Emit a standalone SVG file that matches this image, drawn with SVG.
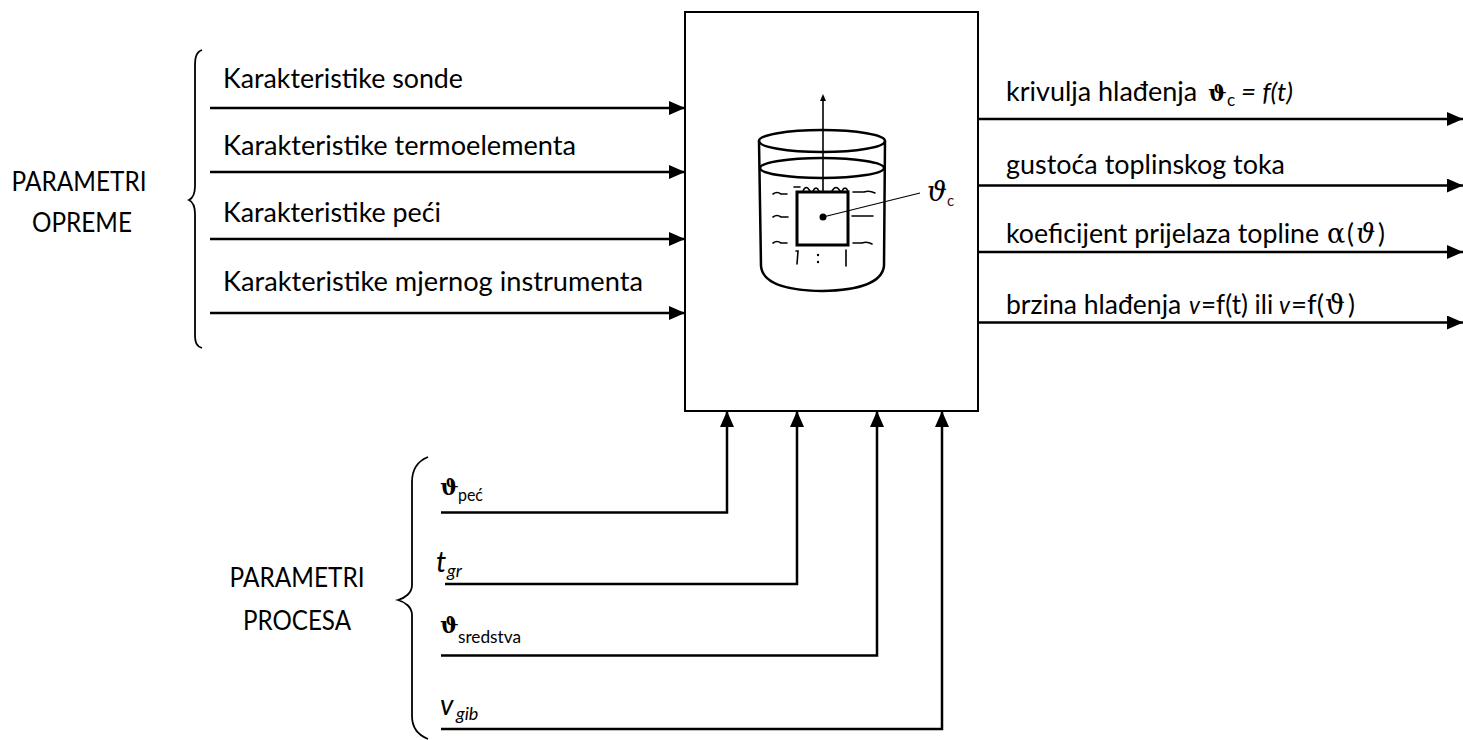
<svg xmlns="http://www.w3.org/2000/svg" width="1463" height="740" viewBox="0 0 1463 740">
<defs>
<style>
.t{font-family:Lato,"Open Sans","Liberation Sans",sans-serif;font-size:26px;fill:#000}
.sub{font-size:18px}
.it{font-style:italic}
.thb{font-family:"DejaVu Serif",serif;font-weight:bold;font-size:22px}
.ths{font-family:"DejaVu Serif","Liberation Serif",serif}
.ln{fill:none;stroke:#000;stroke-width:2.5}
.br{fill:none;stroke:#000;stroke-width:1.8}
.ill{fill:none;stroke:#000;stroke-width:2.5;stroke-linecap:round}
.thin{fill:none;stroke:#000;stroke-width:1.6;stroke-linecap:round}
</style>
<marker id="ah" markerUnits="userSpaceOnUse" markerWidth="16" markerHeight="14" refX="16" refY="7" orient="auto"><path d="M0,0 L16,7 L0,14 z" fill="#000"/></marker>
</defs>
<rect width="1463" height="740" fill="#fff"/>

<g id="connectors">
<line class="ln" x1="210" y1="108" x2="685" y2="108" marker-end="url(#ah)"/>
<line class="ln" x1="210" y1="172" x2="685" y2="172" marker-end="url(#ah)"/>
<line class="ln" x1="210" y1="239" x2="685" y2="239" marker-end="url(#ah)"/>
<line class="ln" x1="210" y1="313" x2="685" y2="313" marker-end="url(#ah)"/>
<line class="ln" x1="979" y1="119" x2="1463" y2="119" marker-end="url(#ah)"/>
<line class="ln" x1="979" y1="185.5" x2="1463" y2="185.5" marker-end="url(#ah)"/>
<line class="ln" x1="979" y1="252" x2="1463" y2="252" marker-end="url(#ah)"/>
<line class="ln" x1="979" y1="322.5" x2="1463" y2="322.5" marker-end="url(#ah)"/>
<path class="ln" d="M441,512.5 H727 V411" marker-end="url(#ah)"/>
<path class="ln" d="M445,584 H797 V411" marker-end="url(#ah)"/>
<path class="ln" d="M441,655.5 H877 V411" marker-end="url(#ah)"/>
<path class="ln" d="M441,729 H942 V411" marker-end="url(#ah)"/>
</g>

<g id="process-box">
<rect x="685" y="12" width="293" height="399" fill="none" stroke="#000" stroke-width="2"/>
<g id="illustration">
<line class="thin" x1="823" y1="97" x2="823" y2="192" stroke-width="2"/>
<path d="M820,101 L823,94 L826,101 z" fill="#000"/>
<ellipse class="ill" cx="822" cy="141" rx="63" ry="11"/>
<ellipse class="ill" cx="822" cy="168" rx="62" ry="10"/>
<path class="ill" d="M759,141 L761,266 Q763,290 822,291 Q881,290 884,266 L885,141"/>
<rect x="797" y="192" width="51" height="53" fill="#fff" stroke="#000" stroke-width="3"/>
<circle cx="823" cy="217" r="3.5" fill="#000"/>
<line x1="823" y1="217" x2="920" y2="193" stroke="#000" stroke-width="1.2"/>
<path class="thin" d="M794,187 L800,187 M803,191 Q806,184 810,191 M813,191 Q816,185 819,191 M832,191 Q836,184 840,191 M842,191 Q845,185 848,191"/>
<path class="thin" d="M773,194 Q777,191 781,194 L787,194 M773,217 Q777,214 781,217 L788,217 M773,243 Q777,240 781,243 L787,243"/>
<path class="thin" d="M853,192 L864,192 Q869,190 875,193 M852,216 L873,216 M853,243 L862,243 Q867,241 872,244"/>
<path class="thin" d="M796,251 L798,251 L797,264 M846,250 L846,266"/>
<circle cx="818" cy="255" r="1.2" fill="#000"/>
<circle cx="818" cy="262" r="1.2" fill="#000"/>
<text class="t"><tspan class="ths" x="927" y="201" font-size="28" font-style="italic">ϑ</tspan><tspan x="947" y="206" font-size="15" fill="#3a1010">c</tspan></text>
</g>
</g>

<g id="group-oprema">
<path class="br" d="M202,50 C196,52 195,58 195,66 L195,186 C195,193 193,198 189,200 C193,202 195,207 195,214 L195,334 C195,342 196,346 202,348"/>
<text class="t" x="79" y="191" text-anchor="middle" textLength="135" lengthAdjust="spacingAndGlyphs">PARAMETRI</text>
<text class="t" x="82" y="232" text-anchor="middle" textLength="100" lengthAdjust="spacingAndGlyphs">OPREME</text>
</g>

<g id="in-sonda"><text class="t" x="223" y="88" textLength="240" lengthAdjust="spacingAndGlyphs">Karakteristike sonde</text></g>
<g id="in-termoelement"><text class="t" x="223" y="155" textLength="353" lengthAdjust="spacingAndGlyphs">Karakteristike termoelementa</text></g>
<g id="in-pec"><text class="t" x="223" y="222" textLength="218" lengthAdjust="spacingAndGlyphs">Karakteristike peći</text></g>
<g id="in-instrument"><text class="t" x="223" y="291" textLength="420" lengthAdjust="spacingAndGlyphs">Karakteristike mjernog instrumenta</text></g>

<g id="out-krivulja"><text class="t" y="101"><tspan x="1006" textLength="198" lengthAdjust="spacingAndGlyphs">krivulja hlađenja </tspan><tspan class="thb" x="1208" font-size="20">ϑ</tspan><tspan x="1227" y="106" font-size="17">c</tspan><tspan class="it" x="1235" y="101"> = f(t)</tspan></text></g>
<g id="out-gustoca"><text class="t" x="1006" y="174" textLength="279" lengthAdjust="spacingAndGlyphs">gustoća toplinskog toka</text></g>
<g id="out-koeficijent"><text class="t" y="243"><tspan x="1006" textLength="320" lengthAdjust="spacingAndGlyphs">koeficijent prijelaza topline </tspan><tspan class="ths" x="1327" font-size="27">α</tspan><tspan x="1347">(</tspan><tspan class="ths it" x="1356" font-size="27">ϑ</tspan><tspan x="1378">)</tspan></text></g>
<g id="out-brzina"><text class="t" y="314"><tspan x="1006" textLength="182" lengthAdjust="spacingAndGlyphs">brzina hlađenja </tspan><tspan class="it" x="1189" textLength="11" lengthAdjust="spacingAndGlyphs">v</tspan><tspan x="1201">=f(t) ili </tspan><tspan class="it" x="1279" textLength="11" lengthAdjust="spacingAndGlyphs">v</tspan><tspan x="1291" textLength="33" lengthAdjust="spacingAndGlyphs">=f(</tspan><tspan class="ths" x="1325" font-size="28">ϑ</tspan><tspan x="1348">)</tspan></text></g>

<g id="group-proces">
<path class="br" d="M428,457 C418,461 412,468 412,482 L412,585 C412,593 405,598 398,600 C405,602 412,607 412,615 L412,716 C412,728 418,735 428,739"/>
<text class="t" x="297" y="587" text-anchor="middle" textLength="135" lengthAdjust="spacingAndGlyphs">PARAMETRI</text>
<text class="t" x="297" y="630" text-anchor="middle" textLength="108" lengthAdjust="spacingAndGlyphs">PROCESA</text>
</g>

<g id="p-pec"><text class="t"><tspan class="thb" x="440" y="495">ϑ</tspan><tspan class="sub" x="458" y="501" textLength="25" lengthAdjust="spacingAndGlyphs">peć</tspan></text></g>
<g id="p-tgr"><text class="t it"><tspan x="436" y="572" font-size="29">t</tspan><tspan class="sub" x="447" y="577">gr</tspan></text></g>
<g id="p-sredstva"><text class="t"><tspan class="thb" x="440" y="633">ϑ</tspan><tspan class="sub" x="458" y="643" textLength="63" lengthAdjust="spacingAndGlyphs">sredstva</tspan></text></g>
<g id="p-vgib"><text class="t it"><tspan x="440" y="715" font-size="28">v</tspan><tspan class="sub" x="456" y="720">gib</tspan></text></g>
</svg>
